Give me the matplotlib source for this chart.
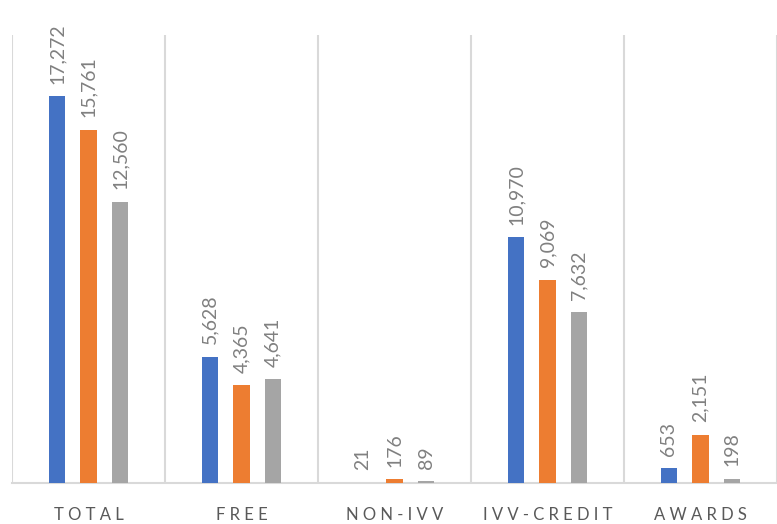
import numpy as np
import matplotlib
matplotlib.use("Agg")
from matplotlib import pyplot as plt

categories = ["TOTAL", "FREE", "NON-IVV", "IVV-CREDIT", "AWARDS"]
series_a = [17272, 5628, 21, 10970, 653]
series_b = [15761, 4365, 176, 9069, 2151]
series_c = [12560, 4641, 89, 7632, 198]
colors = ["#4472C4", "#ED7D31", "#A5A5A5"]

plt.rcParams['font.family'] = ['Lato', 'DejaVu Sans']

fig = plt.figure(figsize=(7.77, 5.24), dpi=100)
ax = fig.add_axes([12 / 777, 41 / 524, 765 / 777, 448 / 524])

x = np.arange(len(categories))
width = 0.105
step = 0.206
for i, (vals, col) in enumerate(zip([series_a, series_b, series_c], colors)):
    pos = x + (i - 1) * step
    bars = ax.bar(pos, vals, width=width, color=col, zorder=3)
    for b, v in zip(bars, vals):
        ax.annotate(f"{v:,}", (b.get_x() + b.get_width() / 2, b.get_height()),
                    xytext=(0, 9), textcoords="offset points",
                    rotation=90, ha="center", va="bottom",
                    fontsize=14, color="#808080",
                    annotation_clip=False)

ax.set_xlim(-0.5, len(categories) - 0.5)
ax.set_ylim(0, 20000)
ax.set_xticks(x)
ax.set_xticklabels([" ".join(c) for c in categories], fontsize=12, color="#595959")
ax.set_xticks(np.arange(len(categories) + 1) - 0.5, minor=True)
ax.tick_params(axis="x", which="both", length=0, pad=17)
ax.set_yticks([])
ax.grid(which="minor", axis="x", color="#D9D9D9", linewidth=1.5, zorder=0)
for s in ["top", "right", "left"]:
    ax.spines[s].set_visible(False)
ax.spines["bottom"].set_color("#D9D9D9")
ax.spines["bottom"].set_linewidth(1.5)

plt.savefig("out.png", dpi=100)
